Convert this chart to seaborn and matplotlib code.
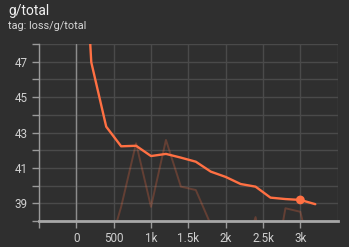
import matplotlib
matplotlib.use("Agg")
import matplotlib.pyplot as plt
import seaborn as sns
import pandas as pd
import numpy as np
from matplotlib.ticker import FixedLocator, FixedFormatter

steps = [0, 200, 400, 600, 800, 1000, 1200, 1400, 1600, 1800, 2000, 2200, 2400, 2600, 2800, 3000, 3200]
smoothed = [62.0, 46.97, 43.33, 42.22, 42.25, 41.67, 41.79, 41.58, 41.35, 40.79, 40.49, 40.09, 39.94, 39.32, 39.24, 39.19, 38.95]
raw = [np.nan, 33.0, 35.9, 38.8, 42.39, 38.8, 42.58, 39.94, 39.75, 37.8, 37.2, 35.5, 38.22, 34.0, 38.72, 38.52, 35.0]
x_ticks = [-500, 0, 500, 1000, 1500, 2000, 2500, 3000]
x_labels = ["", "0", "500", "1k", "1.5k", "2k", "2.5k", "3k"]
y_major = [39, 41, 43, 45, 47]
y_minor = [38, 40, 42, 44, 46, 48]

BG = "#2f2f2f"
ORANGE = "#ff7043"

sns.set_theme(style="dark")
plt.rcParams["font.family"] = ["Roboto", "DejaVu Sans"]

df = pd.DataFrame({"step": steps, "smoothed": smoothed, "raw": raw})

fig = plt.figure(figsize=(3.49, 2.47), dpi=100, facecolor=BG)
ax = fig.add_axes([39 / 349, 1 - 221 / 247, (337.7 - 39) / 349, (221 - 44) / 247])
ax.set_facecolor(BG)

ax.set_xlim(-500, 3500)
ax.set_ylim(38, 48)

# grid
for xv in range(-500, 3501, 500):
    ax.axvline(xv, color="#4a4a4a", lw=1, zorder=0)
for yv in range(38, 49):
    ax.axhline(yv, color="#4a4a4a", lw=1, zorder=0)
ax.axvline(0, color="#8c8c8c", lw=1, zorder=1)

sns.lineplot(data=df.dropna(), x="step", y="raw", ax=ax, color=ORANGE, alpha=0.25, lw=1.4, zorder=2)
sns.lineplot(data=df, x="step", y="smoothed", ax=ax, color=ORANGE, lw=1.7, zorder=3)
sns.scatterplot(x=[steps[15]], y=[smoothed[15]], ax=ax, color=ORANGE, s=40, edgecolor="none", zorder=4)

for s in ["top", "right"]:
    ax.spines[s].set_visible(False)
ax.spines["left"].set_color("#9a9a9a")
ax.spines["left"].set_linewidth(1)
ax.spines["bottom"].set_color("#a8a8a8")
ax.spines["bottom"].set_linewidth(2)

ax.xaxis.set_major_locator(FixedLocator(x_ticks))
ax.xaxis.set_major_formatter(FixedFormatter(x_labels))
ax.yaxis.set_major_locator(FixedLocator(y_major))
ax.yaxis.set_minor_locator(FixedLocator(y_minor))
ax.tick_params(axis="both", which="both", colors="#9a9a9a", labelcolor="#d0d0d0", labelsize=8.4, length=5, width=1, direction="out", pad=3)
ax.tick_params(axis="x", bottom=True)
ax.tick_params(axis="y", left=True, which="both")
ax.set_xlabel("")
ax.set_ylabel("")

fig.text(8 / 349, 1 - 11 / 247, "g/total", color="#f0f0f0", fontsize=10, va="center", ha="left")
fig.text(8 / 349, 1 - 26 / 247, "tag: loss/g/total", color="#d8d8d8", fontsize=7.8, va="center", ha="left")

fig.savefig("out.png", dpi=100, facecolor=BG)
